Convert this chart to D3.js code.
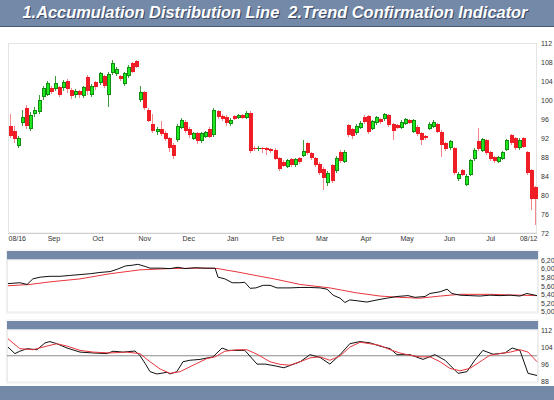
<!DOCTYPE html>
<html>
<head>
<meta charset="utf-8">
<script src="https://cdn.jsdelivr.net/npm/d3@7"></script>
<style>
body { margin: 0; background: #fff; }
svg { display: block; }
text { font-family: "Liberation Sans", Arial, sans-serif; }
</style>
</head>
<body>
<div id="chart"></div>
<script>
var title_text = "1.Accumulation Distribution Line  2.Trend Confirmation Indicator";

// Daily candles (oldest first)
var opens = [
    94.5, 93.5, 90.3, 95.2, 98.3, 94, 97, 97.5, 100.6, 101,
    102.5, 102.4, 102.7, 102.5, 104, 102.2, 101, 101.8, 100.8, 104.8,
    101, 103.8, 103.6, 105, 101, 105.7, 105.5, 105, 103.4, 105,
    107.8, 108.3, 100, 101.7, 98, 95, 93.2, 94, 93, 92,
    90.5, 91.5, 94.2, 95.4, 94, 91.8, 93, 91.4, 92.2, 94,
    92.6, 97.6, 96.6, 96.4, 95, 96.6, 96.2, 96.8, 96.3, 97.2,
    90, 89.6, 90, 89.8, 89.6, 89.5, 87.8, 87, 86, 87.6,
    86.3, 87.8, 88.2, 91, 88.8, 87.8, 86.6, 85.5, 82.5, 86.3,
    85, 89, 87, 94.7, 93.8, 93, 94.2, 96.4, 96.6, 94,
    95.2, 96, 96, 96.8, 95, 94.8, 94.2, 95, 95.8, 93.2,
    94.4, 93, 92.4, 94, 94.4, 95, 93.3, 91, 89.8, 90,
    83.3, 85.2, 82.2, 84.3, 87.5, 91.4, 89.2, 91.6, 89, 88,
    87, 87.6, 89.5, 92.6, 92, 89.8, 92, 89, 85.2, 81.6
];
var highs = [
    97, 94.5, 92.5, 98, 99, 97.5, 98.5, 101, 103, 104,
    103, 105, 103, 104.2, 104.4, 102.6, 102.3, 102.2, 103, 105.2,
    103.4, 104, 106, 105.3, 106, 108.5, 107, 105.3, 106, 107.3,
    108, 108.5, 103, 102, 98.3, 97, 94.3, 95.5, 93.4, 92.3,
    91, 95, 96.2, 95.7, 94.4, 93.3, 93.3, 93.2, 93.5, 94.4,
    98.3, 97.9, 97, 96.8, 96.2, 96.9, 97, 97.1, 97.6, 97.6,
    90.3, 90.4, 90.2, 90.1, 90, 89.8, 88, 87.3, 87.6, 87.8,
    87.8, 88.1, 91.6, 91.2, 89, 88, 87, 86, 85, 86.6,
    88.3, 89.4, 89.4, 95, 94.2, 95, 95.5, 96.8, 96.9, 95.8,
    96.7, 96.3, 97.3, 97, 95.2, 95, 95.7, 96.3, 96, 96,
    94.7, 93.2, 92.7, 95.3, 95.7, 95.2, 93.6, 91.2, 91.6, 90.2,
    84.8, 85.5, 84.4, 87.6, 89.8, 94.1, 92, 91.8, 89.2, 88.3,
    88.3, 89.2, 91.8, 92.8, 92.2, 92, 92.2, 89.3, 85.5, 82
];
var lows = [
    92, 91, 89.8, 94.6, 94, 93.5, 96.5, 97, 100, 100.8,
    101.3, 102, 100.6, 102, 101.5, 100.2, 100.5, 100.4, 100.4, 101,
    100.6, 102.2, 103.2, 102.6, 98.5, 105.3, 105, 104, 103, 104.6,
    105.6, 106.8, 99.6, 98, 95.3, 93, 92.6, 92.4, 91.3, 89,
    87.6, 91.2, 94, 93, 92, 91.5, 90.8, 91, 92, 92,
    92.3, 96, 95.5, 94.6, 94.6, 95.8, 95.9, 96, 96, 88.8,
    89.2, 89.3, 88.8, 88.5, 88.8, 87.3, 85, 85.8, 85.7, 86,
    86, 86.6, 88, 88.5, 87.4, 86, 84.2, 81, 82, 82.5,
    84.6, 86.8, 86.7, 92.2, 91.8, 92.6, 94, 95, 92.8, 93.6,
    94.8, 95, 95.6, 94.4, 91.6, 93.8, 94, 94.7, 94.9, 93,
    92.4, 90.6, 91.6, 93.7, 94.1, 93, 88, 89.2, 89.5, 84.2,
    83, 84, 81.9, 84, 87.2, 89.3, 89, 88.4, 87.2, 86.8,
    86.8, 87.3, 89.2, 90.6, 89.5, 89.5, 89.8, 84.2, 76.8, 73.7
];
var closes = [
    92.5, 91.8, 92, 96.4, 94.5, 96.8, 98, 100, 102.5, 103.6,
    101.6, 103.6, 101, 103.8, 102.4, 100.8, 102, 101, 102.7, 102,
    103, 102.7, 105.7, 103, 105.5, 107.8, 106.6, 104.4, 105.6, 107,
    106, 107, 101.7, 98.3, 95.6, 93.5, 94, 92.8, 91.8, 90,
    88.2, 94.5, 95.8, 93.5, 92.6, 93, 91.4, 93, 93.2, 92.3,
    97.9, 96.4, 96, 95.2, 95.8, 96.1, 96.8, 96.3, 97.3, 89.2,
    89.6, 90, 89.6, 89.5, 89.2, 87.6, 85.5, 86.2, 87.3, 86.4,
    87.5, 87, 89.2, 88.8, 87.8, 86.4, 84.6, 83.6, 84.6, 83,
    87.8, 87.2, 89, 92.6, 92.4, 94.6, 95.2, 95.3, 93.2, 95.5,
    96.4, 95.3, 97, 94.8, 93.4, 94.2, 95.4, 96, 95.2, 95.7,
    92.8, 91.6, 92, 95, 95.4, 93.3, 90.6, 89.6, 91.4, 84.6,
    84.5, 84.3, 84.1, 87.4, 89.5, 89.6, 91.8, 88.8, 87.5, 87.2,
    88, 89, 91.6, 91, 89.8, 91.6, 90.2, 84.6, 79.2, 79.2
];

// Indicator series: [bar position, value]
var ad_line = [
    [0, 5.65], [2.9, 5.67], [4.7, 5.63], [6.1, 5.76], [7.9, 5.80], [10.3, 5.82], [12.8, 5.82],
    [15.2, 5.84], [17.7, 5.86], [20.2, 5.88], [22.6, 5.91], [25.1, 5.93], [27.0, 5.99], [28.8, 6.06],
    [30.7, 6.08], [31.9, 6.10], [33.7, 6.05], [34.9, 6.01], [37.4, 6.01], [39.8, 6.00], [41.8, 6.03],
    [43.5, 6.00], [46.0, 6.02], [48.4, 6.01], [50.9, 6.01], [51.6, 5.80], [53.3, 5.76], [55.1, 5.67],
    [57.0, 5.67], [58.2, 5.68], [59.5, 5.54], [60.9, 5.55], [62.7, 5.61], [64.4, 5.61], [66.1, 5.55],
    [69.3, 5.55], [71.8, 5.56], [74.2, 5.56], [76.7, 5.55], [78.4, 5.52], [79.9, 5.38], [81.6, 5.31],
    [82.8, 5.21], [84.0, 5.27], [85.8, 5.25], [88.2, 5.22], [90.7, 5.27], [93.1, 5.31], [95.6, 5.35],
    [98.3, 5.37], [100.0, 5.33], [102.5, 5.35], [103.7, 5.42], [106.2, 5.46], [107.9, 5.52], [109.1, 5.42],
    [111.1, 5.38], [113.5, 5.37], [116.0, 5.36], [118.4, 5.38], [120.9, 5.37], [123.4, 5.38], [125.8, 5.36],
    [127.5, 5.42], [130, 5.37]
];
var ad_avg = [
    [0, 5.60], [5.4, 5.63], [10.3, 5.69], [17.7, 5.76], [25.1, 5.88], [32.4, 5.97], [39.8, 6.00],
    [47.2, 6.01], [51.6, 6.00], [57.0, 5.91], [61.9, 5.82], [65.4, 5.76], [71.8, 5.63], [79.1, 5.55],
    [85.3, 5.44], [91.4, 5.36], [96.3, 5.33], [101.2, 5.31], [106.2, 5.36], [111.1, 5.40], [118.4, 5.40],
    [125.8, 5.38], [130, 5.37]
];
var tci_line = [
    [0, 104.0], [1.7, 101.0], [2.9, 102.1], [4.7, 103.3], [7.1, 102.8], [9.1, 106.0], [10.3, 106.6],
    [12.0, 105.6], [14.5, 103.6], [17.7, 101.7], [20.9, 101.3], [24.3, 101.0], [25.8, 102.1], [28.3, 101.7],
    [31.2, 102.2], [32.4, 100.2], [33.7, 96.4], [34.9, 92.6], [36.6, 91.5], [39.1, 92.3], [39.8, 91.5],
    [41.5, 92.6], [43.0, 97.2], [44.7, 97.9], [47.2, 98.3], [50.4, 99.5], [52.6, 103.6], [54.1, 102.5],
    [58.2, 102.5], [61.2, 96.1], [63.2, 96.1], [65.6, 95.3], [67.8, 94.4], [71.8, 97.2], [74.2, 100.5],
    [76.7, 99.2], [79.1, 96.1], [81.6, 100.5], [84.0, 105.6], [86.5, 106.6], [89.0, 106.0], [91.4, 104.5],
    [93.9, 103.3], [95.6, 100.5], [98.8, 100.5], [102.0, 98.3], [104.9, 100.5], [107.4, 97.9], [110.6, 91.8],
    [112.8, 92.6], [114.7, 97.9], [116.7, 102.5], [119.2, 100.7], [122.1, 101.3], [123.9, 103.6], [125.8, 102.5],
    [127.8, 91.8], [130, 90.8]
];
var tci_signal = [
    [0, 107.9], [2.9, 103.3], [6.1, 102.8], [9.1, 104.3], [12.0, 105.6], [14.5, 104.5], [17.7, 102.5],
    [20.9, 101.7], [25.1, 101.3], [29.2, 101.7], [32.4, 101.0], [34.9, 97.2], [37.4, 93.8], [39.8, 91.8],
    [42.3, 92.6], [45.5, 95.6], [48.9, 98.7], [50.9, 99.5], [53.3, 102.1], [56.3, 102.8], [58.7, 102.8],
    [61.2, 100.7], [64.4, 97.2], [66.8, 96.0], [69.3, 95.6], [71.8, 97.2], [74.2, 99.0], [76.7, 99.5],
    [79.1, 97.9], [81.6, 99.9], [84.0, 104.0], [86.5, 106.3], [89.0, 105.6], [91.4, 104.8], [93.9, 102.8],
    [96.3, 101.3], [98.8, 100.2], [101.2, 99.5], [103.7, 99.5], [106.2, 97.2], [108.6, 94.1], [111.1, 93.0],
    [113.5, 94.1], [116.0, 97.2], [118.4, 100.2], [120.9, 101.0], [123.4, 101.7], [125.8, 102.8], [127.8, 101.7],
    [130, 97.2]
];

var month_labels = ["08/16", "Sep", "Oct", "Nov", "Dec", "Jan", "Feb", "Mar", "Apr", "May", "Jun", "Jul", "08/12"];
var month_dates = ["2010-08-16", "2010-09-16", "2010-10-16", "2010-11-17", "2010-12-17", "2011-01-16",
    "2011-02-16", "2011-03-18", "2011-04-17", "2011-05-15", "2011-06-13", "2011-07-11", "2011-08-12"];
var price_ticks = [72, 76, 80, 84, 88, 92, 96, 100, 104, 108, 112];
var ad_ticks = [5.0, 5.2, 5.4, 5.6, 5.8, 6.0, 6.2];
var tci_ticks = [88, 96, 104, 112];

var bar_color = "#7389a7";
var plot_left = 8, plot_right = 537;

var svg = d3.select("#chart").append("svg")
    .attr("width", 554)
    .attr("height", 400);

// Title strip
svg.append("rect").attr("x", 0).attr("y", 0).attr("width", 554).attr("height", 26).attr("fill", bar_color);
svg.append("line").attr("x1", 0).attr("x2", 554).attr("y1", 26.5).attr("y2", 26.5)
    .attr("stroke", "#4a5a76").attr("stroke-width", 1);

[["#3b4863", 1], ["#ffffff", 0]].forEach(function(t) {
    svg.append("text")
        .attr("x", 275 + t[1])
        .attr("y", 17.5 + t[1])
        .attr("text-anchor", "middle")
        .attr("font-size", 16)
        .attr("font-weight", "bold")
        .attr("font-style", "italic")
        .attr("textLength", 505)
        .attr("lengthAdjust", "spacingAndGlyphs")
        .style("white-space", "pre")
        .attr("fill", t[0])
        .text(title_text);
});

var x_bar = d3.scaleLinear().domain([0, closes.length]).range([plot_left, plot_right]);
var x_time = d3.scaleTime()
    .domain([new Date(2010, 7, 16), new Date(2011, 7, 12)])
    .range([plot_left, plot_right]);

function style_axis(g) {
    g.select(".domain").remove();
    g.selectAll("text").attr("font-size", 7).attr("fill", "#333")
        .attr("font-family", "\"Liberation Sans\", Arial, sans-serif");
}

// ---- Price panel
var y_price = d3.scaleLinear().domain([72, 112]).range([233, 43]);

svg.append("rect")
    .attr("x", 8.5).attr("y", 43.5).attr("width", 528).attr("height", 189.5)
    .attr("fill", "none").attr("stroke", "#e4e4e4");
svg.append("line").attr("x1", plot_left).attr("x2", plot_right).attr("y1", 233.5).attr("y2", 233.5)
    .attr("stroke", "#cfcfcf");

function draw_candles(g) {
    for (var i = 0; i < closes.length; ++i)
    {
        var cx = Math.round(x_bar(i + 0.5));
        var up = closes[i] >= opens[i];
        var body_top = Math.round(y_price(Math.max(opens[i], closes[i])));
        var body_bot = Math.round(y_price(Math.min(opens[i], closes[i])));
        var body_h = Math.max(1, body_bot - body_top);

        g.append("rect")
            .attr("x", cx).attr("y", y_price(highs[i]))
            .attr("width", 1).attr("height", y_price(lows[i]) - y_price(highs[i]))
            .attr("fill", up ? "#3c9c3c" : "#f2868a");

        g.append("rect")
            .attr("x", cx - 1).attr("y", body_top)
            .attr("width", 4).attr("height", body_h)
            .attr("fill", up ? "#118c11" : "#ee1d26");

        // bright core for rising candles
        if (up && body_h > 2) {
            g.append("rect")
                .attr("x", cx).attr("y", body_top + 1)
                .attr("width", 2).attr("height", body_h - 2)
                .attr("fill", "#1ee81e");
        }
    }
}
draw_candles(svg.append("g").attr("shape-rendering", "crispEdges"));

svg.append("g")
    .attr("transform", "translate(" + plot_right + ",0)")
    .call(d3.axisRight(y_price).tickValues(price_ticks).tickSize(0).tickPadding(4))
    .call(style_axis);

var x_axis = svg.append("g")
    .attr("transform", "translate(0,233)")
    .call(d3.axisBottom(x_time)
        .tickValues(month_dates.map(function(d) { return new Date(d + "T00:00"); }))
        .tickFormat(function(d, k) { return month_labels[k]; })
        .tickSize(0).tickPadding(3))
    .call(style_axis);
x_axis.selectAll("text")
    .attr("text-anchor", function(d, k) {
        return k === 0 ? "start" : (k === month_labels.length - 1 ? "end" : "middle");
    });

// ---- Indicator panels
function build_panel(panel_top, height, domain, ticks, fmt) {
    svg.append("rect")
        .attr("x", 6.5).attr("y", panel_top - 9.5).attr("width", 532).attr("height", height + 10)
        .attr("fill", "none").attr("stroke", "#efefef");
    svg.append("rect")
        .attr("x", 7).attr("y", panel_top - 8.5).attr("width", 531).attr("height", 8.5)
        .attr("fill", bar_color);
    svg.append("rect")
        .attr("x", 7.5).attr("y", panel_top + 0.5).attr("width", 530).attr("height", height - 1)
        .attr("fill", "#fff").attr("stroke", "#ebebeb");

    var y = d3.scaleLinear().domain(domain).range([panel_top + height - 1, panel_top + 0.5]);
    svg.append("g")
        .attr("transform", "translate(" + plot_right + ",0)")
        .call(d3.axisRight(y).tickValues(ticks).tickSize(0).tickPadding(4).tickFormat(fmt))
        .call(style_axis);
    return y;
}

function draw_line(y, data, color) {
    var line = d3.line()
        .x(function(d) { return x_bar(d[0]); })
        .y(function(d) { return y(d[1]); });
    svg.append("path")
        .datum(data)
        .attr("d", line)
        .attr("fill", "none")
        .attr("stroke", color)
        .attr("stroke-width", 1);
}

var y_ad = build_panel(259.5, 53, [5.0, 6.2], ad_ticks,
    function(d) { return d.toFixed(2).replace(".", ","); });
draw_line(y_ad, ad_avg, "#e8363c");
draw_line(y_ad, ad_line, "#111");

var y_tci = build_panel(329.5, 53, [88, 112], tci_ticks, d3.format("d"));
svg.append("line")
    .attr("x1", 7).attr("x2", plot_right)
    .attr("y1", y_tci(100)).attr("y2", y_tci(100))
    .attr("stroke", "#8c8c8c").attr("stroke-width", 1.2);
draw_line(y_tci, tci_line, "#111");
draw_line(y_tci, tci_signal, "#e8363c");

// Footer strip
svg.append("rect").attr("x", 0).attr("y", 386).attr("width", 554).attr("height", 14).attr("fill", bar_color);
</script>
</body>
</html>
